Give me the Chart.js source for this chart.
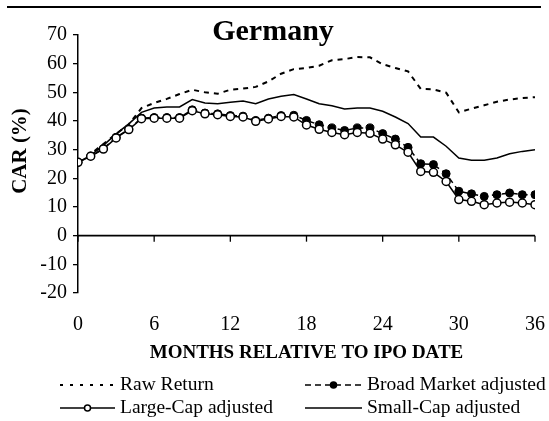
<!DOCTYPE html>
<html>
<head>
<meta charset="utf-8">
<title>Germany</title>
<script src="https://cdn.jsdelivr.net/npm/chart.js@4.4.0/dist/chart.umd.min.js"></script>
<style>
  html, body { margin: 0; padding: 0; background: #fff; }
  #wrap { width: 549px; height: 421px; }
</style>
</head>
<body>
<div id="wrap"><canvas id="dvCanvas" width="549" height="421"></canvas></div>
<script>
// months after the IPO
var months = [0, 1, 2, 3, 4, 5, 6, 7, 8, 9, 10, 11, 12, 13, 14, 15, 16, 17, 18,
              19, 20, 21, 22, 23, 24, 25, 26, 27, 28, 29, 30, 31, 32, 33, 34, 35, 36];

// CAR in percent
var rawReturn = [25.6, 28.5, 32.0, 35.5, 38.8, 44.5, 46.3, 47.7, 49.4, 50.9, 50.0, 49.5, 50.9,
                 51.3, 51.9, 53.8, 56.5, 58.1, 58.5, 59.3, 61.2, 61.6, 62.3, 62.2, 59.8, 58.5,
                 57.3, 51.2, 51.0, 49.9, 43.0, 44.3, 45.5, 46.7, 47.5, 48.0, 48.3];
var broadMarket = [25.6, 27.8, 30.4, 34.3, 37.2, 41.0, 41.2, 41.2, 41.2, 43.9, 42.8, 42.5, 41.9,
                   41.7, 40.2, 41.0, 41.9, 42.0, 40.2, 38.7, 37.6, 36.7, 37.6, 37.6, 35.6, 33.7,
                   30.8, 25.1, 24.8, 21.6, 15.5, 14.6, 13.7, 14.3, 14.9, 14.3, 14.3];
var largeCap = [25.6, 27.7, 30.2, 34.1, 37.0, 40.8, 41.0, 41.0, 41.0, 43.6, 42.5, 42.2, 41.6,
                41.4, 39.9, 40.7, 41.6, 41.4, 38.6, 37.1, 36.0, 35.2, 36.0, 35.7, 33.7, 31.7,
                29.1, 22.4, 22.1, 18.9, 12.6, 12.0, 10.8, 11.4, 11.7, 11.4, 10.8];
var smallCap = [25.6, 28.0, 31.5, 35.5, 39.0, 43.0, 44.5, 44.9, 44.9, 47.5, 46.3, 46.0, 46.5,
                47.0, 46.0, 47.7, 48.6, 49.2, 47.7, 46.0, 45.3, 44.2, 44.5, 44.5, 43.4, 41.4,
                39.1, 34.4, 34.4, 31.2, 27.1, 26.3, 26.3, 27.1, 28.6, 29.4, 30.0];

var xTicks = [0, 6, 12, 18, 24, 30, 36];
var yTicks = [-20, -10, 0, 10, 20, 30, 40, 50, 60, 70];

var chartTitle = 'Germany';
var xTitle = 'MONTHS RELATIVE TO IPO DATE';
var yTitle = 'CAR (%)';

var FONT = "'Liberation Serif', 'Times New Roman', serif";

function points(values) {
    return months.map(function (m, i) { return { x: m, y: values[i] }; });
}

// zero line, title, axis titles, top rule and the two-column legend
var decorations = {
    id: 'decorations',
    afterDraw: function (chart) {
        var c = chart.ctx;
        var xs = chart.scales.x, ys = chart.scales.y;
        c.save();
        c.setLineDash([]);

        // axis line at y = 0 with tick marks hanging below it
        var y0 = ys.getPixelForValue(0);
        c.strokeStyle = '#000';
        c.lineWidth = 1.6;
        c.beginPath();
        c.moveTo(xs.getPixelForValue(0), y0);
        c.lineTo(xs.getPixelForValue(36), y0);
        c.stroke();
        c.lineWidth = 1.3;
        xTicks.forEach(function (v) {
            var px = xs.getPixelForValue(v);
            c.beginPath();
            c.moveTo(px, y0);
            c.lineTo(px, y0 + 6);
            c.stroke();
        });

        c.fillStyle = '#000';
        c.fillRect(7, 6, 534, 2);

        c.textAlign = 'center';
        c.textBaseline = 'alphabetic';
        c.font = 'bold 30px ' + FONT;
        c.fillText(chartTitle, 273, 40);

        c.font = 'bold 19px ' + FONT;
        c.textBaseline = 'middle';
        c.fillText(xTitle, (chart.chartArea.left + chart.chartArea.right) / 2, 353);

        c.save();
        c.translate(21, 151);
        c.rotate(-Math.PI / 2);
        c.font = 'bold 21px ' + FONT;
        c.fillText(yTitle, 0, 0);
        c.restore();

        // legend: [dataset index, line start, line end, row y]
        var items = [[0, 60, 115, 385], [1, 305, 362, 385], [2, 60, 115, 408], [3, 305, 362, 408]];
        c.font = '19.5px ' + FONT;
        c.textAlign = 'left';
        items.forEach(function (it) {
            var ds = chart.data.datasets[it[0]];
            var y = it[3];
            c.strokeStyle = '#000';
            c.lineWidth = ds.legendWidth;
            c.setLineDash(ds.legendDash);
            c.beginPath();
            c.moveTo(it[1], y);
            c.lineTo(it[2], y);
            c.stroke();
            c.setLineDash([]);
            if (ds.pointRadius > 0) {
                c.beginPath();
                c.arc((it[1] + it[2]) / 2, y, 3, 0, Math.PI * 2);
                c.fillStyle = ds.pointBackgroundColor;
                c.fill();
                c.lineWidth = 1.5;
                c.stroke();
            }
            c.fillStyle = '#000';
            c.fillText(ds.label, it[2] + 5, y);
        });
        c.restore();
    }
};

var ctx = document.getElementById('dvCanvas').getContext('2d');
var myChart = new Chart(ctx, {
    type: 'line',
    data: {
        datasets: [{
            label: 'Raw Return',
            data: points(rawReturn),
            borderColor: '#000',
            borderWidth: 2,
            borderDash: [5, 5],
            pointRadius: 0,
            legendDash: [3, 7],
            legendWidth: 2,
            order: 3
        }, {
            label: 'Broad Market adjusted',
            data: points(broadMarket),
            borderColor: '#000',
            borderWidth: 1.5,
            borderDash: [6, 4],
            pointRadius: 4,
            pointBackgroundColor: '#000',
            pointBorderColor: '#000',
            pointBorderWidth: 1,
            legendDash: [6, 4],
            legendWidth: 1.5,
            order: 1
        }, {
            label: 'Large-Cap adjusted',
            data: points(largeCap),
            borderColor: '#000',
            borderWidth: 1.5,
            pointRadius: 4,
            pointBackgroundColor: '#fff',
            pointBorderColor: '#000',
            pointBorderWidth: 1.5,
            legendDash: [],
            legendWidth: 1.5,
            order: 0
        }, {
            label: 'Small-Cap adjusted',
            data: points(smallCap),
            borderColor: '#000',
            borderWidth: 1.5,
            pointRadius: 0,
            legendDash: [],
            legendWidth: 1.5,
            order: 2
        }]
    },
    options: {
        responsive: false,
        animation: false,
        layout: { padding: { top: 35, right: 14, left: 0, bottom: 0 } },
        elements: { line: { tension: 0 } },
        plugins: {
            legend: { display: false },
            tooltip: { enabled: false },
            title: { display: false }
        },
        scales: {
            x: {
                type: 'linear',
                position: 'bottom',
                min: 0,
                max: 36,
                afterBuildTicks: function (s) { s.ticks = xTicks.map(function (v) { return { value: v }; }); },
                ticks: { padding: 20, maxRotation: 0, color: '#000', font: { family: FONT, size: 20 } },
                grid: { display: false, drawTicks: false },
                border: { display: false },
                afterFit: function (s) { s.height = 128; s.paddingLeft = 0; s.paddingRight = 0; }
            },
            y: {
                min: -20,
                max: 70,
                afterBuildTicks: function (s) { s.ticks = yTicks.map(function (v) { return { value: v }; }); },
                ticks: { padding: 6, color: '#000', font: { family: FONT, size: 20 } },
                grid: { drawOnChartArea: false, drawTicks: true, tickLength: 5, color: '#000', lineWidth: 1.3 },
                border: { color: '#000', width: 1.5 },
                afterFit: function (s) { s.width = 78; s.paddingTop = 0; s.paddingBottom = 0; }
            }
        }
    },
    plugins: [decorations]
});
</script>
</body>
</html>
